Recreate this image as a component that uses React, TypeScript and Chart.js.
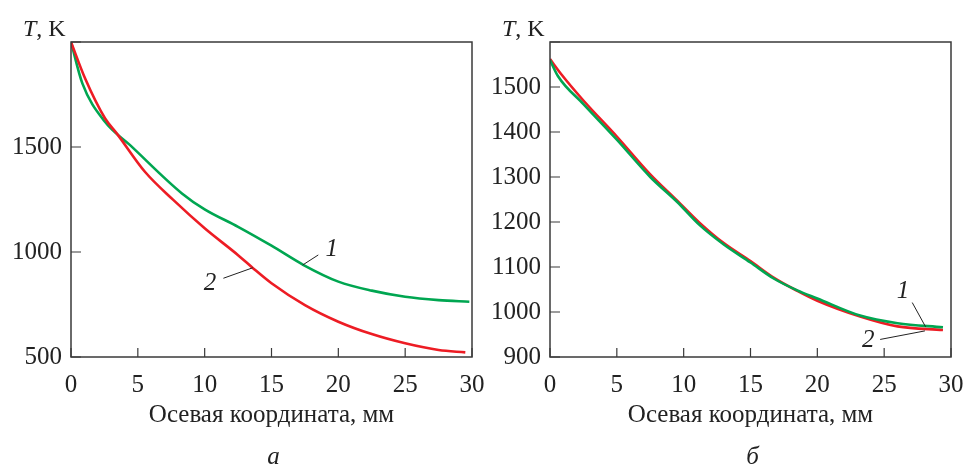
import React, { useEffect, useRef } from 'react';
import { Chart, registerables } from 'chart.js';

Chart.register(...registerables);

// Panel а
const xA1 = [0, 0.85, 2.54, 4.4, 8.3, 10, 12.5, 15, 17.4, 20, 22.5, 25, 27.5, 29.8];
const tA1 = [2000, 1803, 1620, 1510, 1279, 1203, 1120, 1030, 938, 859, 816, 787, 771, 763];
const xA2 = [0, 1.05, 2.54, 3.42, 5.53, 7.65, 10, 12.5, 13.6, 15, 17.5, 20, 22.5, 25, 27.5, 29.5];
const tA2 = [2000, 1827, 1637, 1565, 1382, 1248, 1113, 985, 924, 851, 747, 668, 609, 565, 533, 522];

// Panel б
const xB1 = [0, 0.6, 2.5, 5, 7.5, 9.5, 11.2, 13, 15, 16.7, 18.5, 20, 23.2, 26, 29.4];
const tB1 = [1560, 1524, 1462, 1383, 1300, 1245, 1193, 1150, 1110, 1075, 1048, 1030, 992, 975, 966];
const xB2 = [0, 0.8, 2.5, 5, 7.5, 9.5, 11.2, 13, 15, 16.7, 18.5, 20, 23.2, 26, 29.4];
const tB2 = [1562, 1530, 1470, 1390, 1306, 1248, 1198, 1153, 1113, 1077, 1047, 1025, 990, 968, 960];

const xTicksMax = 30;
const xTickStep = 5;
const yRangeA = [500, 2000];
const yStepA = 500;
const yRangeB = [900, 1600];
const yStepB = 100;

// curve labels: [text, x, T, leaderFromX, leaderFromT, leaderToX, leaderToT]
const labelsA: [string, number, number, number, number, number, number][] = [
  ['1', 19.5, 1014, 18.5, 986, 17.33, 938],
  ['2', 10.4, 851, 11.4, 875, 13.6, 925],
];
const labelsB: [string, number, number, number, number, number, number][] = [
  ['1', 26.4, 1045, 27.1, 1021, 28.1, 967],
  ['2', 23.8, 936, 24.7, 939, 28.05, 958],
];

const xTitle = 'Осевая координата, мм';
const GREEN = '#00a651';
const RED = '#ed1c24';
const SERIF = '"Liberation Serif", "Times New Roman", serif';

const decor = {
  id: 'decor',
  afterDatasetsDraw(chart: any, _args: any, opts: any) {
    const { ctx, chartArea: a, scales } = chart;
    const x = scales.x;
    const y = scales.y;
    ctx.save();
    ctx.strokeStyle = '#3a3a3a';
    ctx.lineWidth = 1.5;
    ctx.strokeRect(a.left, a.top, a.right - a.left, a.bottom - a.top);
    ctx.lineWidth = 1.2;
    ctx.beginPath();
    x.ticks.forEach((t: any) => {
      const px = x.getPixelForValue(t.value);
      ctx.moveTo(px, a.bottom);
      ctx.lineTo(px, a.bottom - 9);
    });
    y.ticks.forEach((t: any) => {
      const py = y.getPixelForValue(t.value);
      ctx.moveTo(a.left, py);
      ctx.lineTo(a.left + 10, py);
    });
    ctx.stroke();

    // leaders and curve labels
    ctx.strokeStyle = '#222';
    ctx.lineWidth = 1;
    ctx.fillStyle = '#222';
    ctx.font = `italic 25px ${SERIF}`;
    ctx.textAlign = 'center';
    ctx.textBaseline = 'middle';
    (opts.labels || []).forEach((l: any) => {
      const [txt, lx, ly, fx, fy, tx, ty] = l;
      ctx.beginPath();
      ctx.moveTo(x.getPixelForValue(fx), y.getPixelForValue(fy));
      ctx.lineTo(x.getPixelForValue(tx), y.getPixelForValue(ty));
      ctx.stroke();
      ctx.fillText(txt, x.getPixelForValue(lx), y.getPixelForValue(ly));
    });

    // T, K
    ctx.textAlign = 'left';
    ctx.textBaseline = 'alphabetic';
    ctx.font = `italic 24px ${SERIF}`;
    const bx = a.left - 48;
    const by = a.top - 6;
    ctx.fillText('T', bx, by);
    const tw = ctx.measureText('T').width;
    ctx.font = `24px ${SERIF}`;
    ctx.fillText(', K', bx + tw, by);

    // panel letter
    ctx.font = `italic 25px ${SERIF}`;
    ctx.textAlign = 'center';
    ctx.fillText(opts.panel, (a.left + a.right) / 2 + 2, a.bottom + 107);
    ctx.restore();
  },
};

function makeConfig(
  s1x: number[], s1y: number[], s2x: number[], s2y: number[],
  yr: number[], ys: number, yAxisW: number, padRight: number,
  labels: any, panel: string, greenOnTop: boolean
): any {
  const pts = (xs: number[], ys2: number[]) => xs.map((v, i) => ({ x: v, y: ys2[i] }));
  return {
    type: 'line',
    data: {
      datasets: [
        {
          label: '1', data: pts(s1x, s1y), borderColor: GREEN, borderWidth: 2.6,
          pointRadius: 0, cubicInterpolationMode: 'monotone', fill: false, order: greenOnTop ? 0 : 1,
        },
        {
          label: '2', data: pts(s2x, s2y), borderColor: RED, borderWidth: 2.6,
          pointRadius: 0, cubicInterpolationMode: 'monotone', fill: false, order: greenOnTop ? 1 : 0,
        },
      ],
    },
    options: {
      responsive: false,
      animation: false,
      layout: { padding: { top: 42, right: padRight, left: 0, bottom: 0 } },
      plugins: {
        legend: { display: false },
        tooltip: { enabled: false },
        decor: { labels, panel },
      },
      scales: {
        x: {
          type: 'linear', min: 0, max: xTicksMax,
          grid: { display: false, drawTicks: false },
          border: { display: false },
          ticks: { stepSize: xTickStep, padding: 13, color: '#222', font: { family: SERIF, size: 25 }, maxRotation: 0 },
          title: { display: true, text: xTitle, color: '#222', font: { family: SERIF, size: 25 }, padding: { top: 0, bottom: 37 } },
          afterFit: (s: any) => { s.height = 110; s.paddingLeft = 0; s.paddingRight = 0; },
        },
        y: {
          type: 'linear', min: yr[0], max: yr[1],
          grid: { display: false, drawTicks: false },
          border: { display: false },
          ticks: {
            stepSize: ys, padding: 9, color: '#222', font: { family: SERIF, size: 25 },
            callback: (v: number) => (v === yr[1] ? '' : String(v)),
          },
          afterFit: (s: any) => { s.width = yAxisW; s.paddingTop = 0; s.paddingBottom = 0; },
        },
      },
    },
    plugins: [decor],
  };
}

function Panel(props: { cfg: any; left: number; width: number }) {
  const ref = useRef<HTMLCanvasElement>(null);
  useEffect(() => {
    const c = new Chart(ref.current as HTMLCanvasElement, props.cfg);
    return () => c.destroy();
  }, []);
  return (
    <canvas
      ref={ref}
      width={props.width}
      height={467}
      style={{ position: 'absolute', left: props.left, top: 0, width: props.width, height: 467 }}
    />
  );
}

export default function App() {
  const cfgA = makeConfig(xA1, tA1, xA2, tA2, yRangeA, yStepA, 71, 28, labelsA, 'а', false);
  const cfgB = makeConfig(xB1, tB1, xB2, tB2, yRangeB, yStepB, 68, 13, labelsB, 'б', true);
  return (
    <div style={{ position: 'absolute', left: 0, top: 0, width: 964, height: 467, background: '#fff', overflow: 'hidden' }}>
      <Panel cfg={cfgA} left={0} width={500} />
      <Panel cfg={cfgB} left={482} width={482} />
    </div>
  );
}
